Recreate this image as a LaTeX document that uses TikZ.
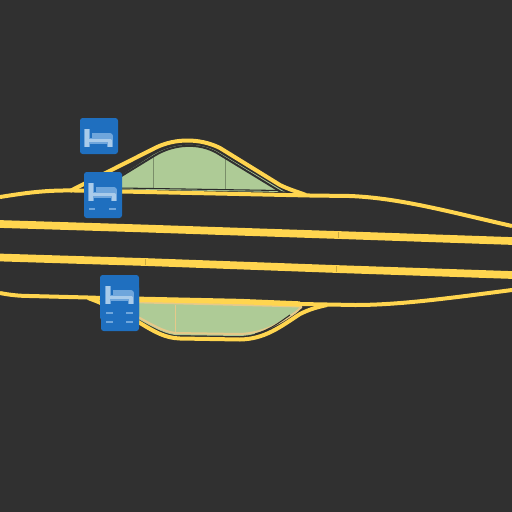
\documentclass[tikz,border=0pt]{standalone}
\usepackage{tikz}
\definecolor{asphalt}{HTML}{303030}
\definecolor{roadline}{HTML}{FFD54F}
\definecolor{parkgreen}{HTML}{AECB96}
\definecolor{parkedge}{HTML}{E6C98A}
\definecolor{signblue}{HTML}{1F6FBF}
\definecolor{bedhalo}{HTML}{6FA6DC}
\definecolor{bedlight}{HTML}{A9CBEA}
\tikzset{
  road/.style={draw=roadline,line width=3pt,line join=round},
  lane/.style={draw=roadline,line width=5.8pt},
  seam/.style={draw=#1,line width=0.5pt},
  bedhaloline/.style={draw=bedhalo,line width=4pt,line join=round},
  bedline/.style={draw=bedlight,line width=2.4pt,line join=round},
  dashmark/.style={draw=bedhalo,line width=1.4pt}
}
% one bed glyph, (#1,#2) is the top left of the sign
\newcommand{\bedglyph}[2]{
  \draw[bedhaloline] (#1+9,#2+11) -- (#1+9,#2+29) (#1+9,#2+23) -- (#1+32,#2+23) -- (#1+32,#2+29) (#1+32,#2+23) -- (#1+32,#2+18) -- (#1+14,#2+18);
  \draw[bedline] (#1+9,#2+11) -- (#1+9,#2+29) (#1+9,#2+22.5) -- (#1+32,#2+22.5) -- (#1+32,#2+29);
}
\begin{document}
\begin{tikzpicture}[x=0.75pt,y=0.75pt,yscale=-1,xscale=1]
\useasboundingbox (0,0) rectangle (512,512);
\fill[asphalt] (0,0) rectangle (512,512);

%upper parking bay
\fill[parkgreen] (100,189) -- (153,155) .. controls (175,142) and (200,142) .. (218,152) -- (285,192) -- cycle;
\draw[seam=parkgreen!70!black] (153,155) -- (153,188);
\draw[seam=parkgreen!70!black] (225,158) -- (225,190);
%dark gap under the branch
\draw[asphalt,line width=1.5pt] (110,183) -- (154,156) .. controls (175,143) and (200,143) .. (217,153) -- (281,192) -- (305,197);
\draw[asphalt!90!black,line width=0.8pt] (120,188) -- (280,190.5);

%upper road
\draw[road] (0,197) .. controls (25,193) and (45,190) .. (75,190.5) -- (310,195.5) -- (350,196) .. controls (400,198) and (450,212) .. (512,226);
\draw[road] (70,191) -- (155,148) .. controls (175,138) and (200,138) .. (220,148) -- (280,185) .. controls (288,189) and (295,191) .. (306,195);

%middle lanes
\draw[lane] (0,224) -- (145,228.5) -- (338,235) -- (512,241);
\draw[lane] (0,257.5) -- (145,262) -- (336,269) -- (512,275);
\draw[seam=roadline!80!black] (338,232) -- (338,238);
\draw[seam=roadline!80!black] (145,259) -- (145,265);
\draw[seam=roadline!80!black] (336,266) -- (336,272);

%lower parking bay
\fill[parkgreen] (125,301) -- (302,305) -- (296,312) .. controls (278,325) and (262,335) .. (240,336) -- (175,335) .. controls (160,333) and (145,322) .. (125,312) -- cycle;
\draw[parkedge,line width=1.5pt] (125,302) -- (302,306.5) -- (296,312) .. controls (278,325) and (262,333) .. (240,334) -- (175,333) .. controls (160,331) and (145,320) .. (125,310);
\draw[seam=parkedge] (175,305) -- (175,333);
\fill[asphalt] (302,305.5) -- (312,306) -- (303,310) -- cycle;
\draw[asphalt,line width=0.8pt] (255,334) .. controls (270,330) and (280,322) .. (290,315);

%lower road
\draw[road] (0,293) .. controls (10,295) and (20,296) .. (30,296) -- (88,297.5) -- (135,299);
\draw[road,line width=4pt] (125,299) -- (240,301.5) -- (300,304);
\draw[road] (300,304) -- (355,305) .. controls (400,305) and (450,298) .. (512,290);
\draw[road] (88,298) .. controls (105,304) and (120,312) .. (140,323) .. controls (155,332) and (165,338) .. (180,338.5) -- (240,339.5) .. controls (265,339) and (280,327) .. (300,314) .. controls (310,309) and (318,307) .. (327,305);

%signs
\fill[signblue,rounded corners=2pt] (80,118) rectangle (118,154);
\bedglyph{78}{118}
\fill[signblue,rounded corners=2pt] (84,172) rectangle (122,218);
\bedglyph{82}{172}
\draw[dashmark] (89,209) -- (95,209) (109,209) -- (116,209);
\fill[signblue,rounded corners=2pt] (100,275) rectangle (139,320);
\fill[signblue,rounded corners=2pt] (101,285) rectangle (139,331);
\bedglyph{99}{275}
\draw[dashmark] (106,313) -- (113,313) (126,313) -- (133,313);
\draw[dashmark] (106,322) -- (113,322) (126,322) -- (133,322);
\end{tikzpicture}
\end{document}
